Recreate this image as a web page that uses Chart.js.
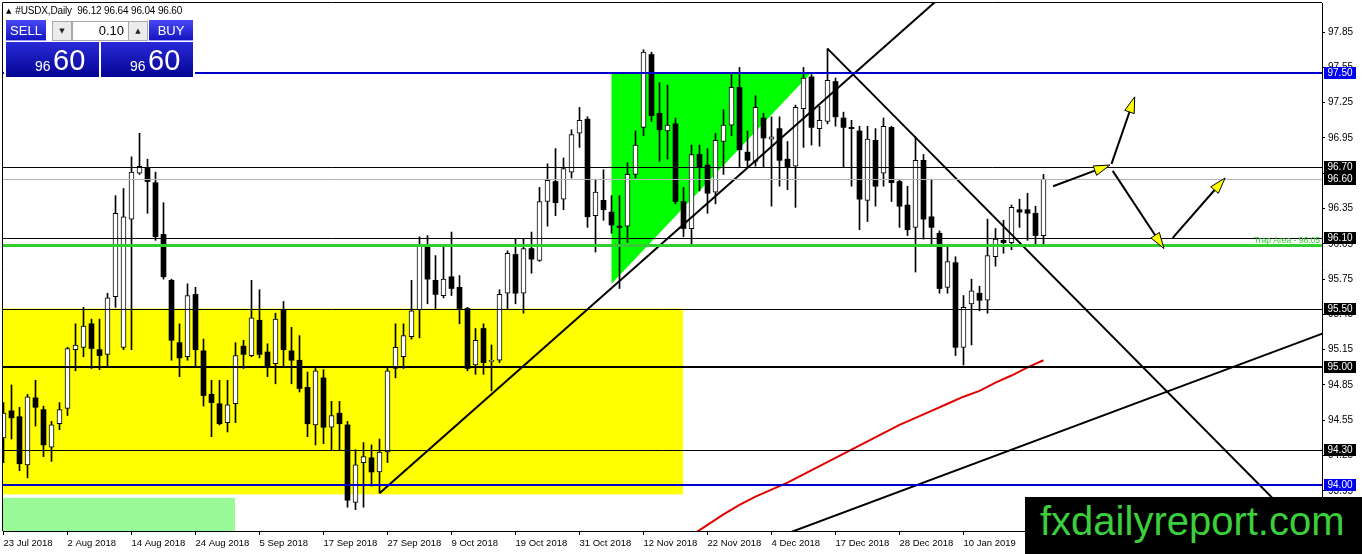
<!DOCTYPE html>
<html>
<head>
<meta charset="utf-8">
<script src="https://cdn.jsdelivr.net/npm/chart.js@4.4.0/dist/chart.umd.min.js"></script>
<style>
  body { margin: 0; background: #fff; }
  #wrap { position: relative; width: 1362px; height: 554px; overflow: hidden; font-family: 'Liberation Sans', Arial, sans-serif; }
  #c { position: absolute; left: 0; top: 0; }
  .hdr { position: absolute; left: 6px; top: 5px; font-size: 10px; letter-spacing: -0.15px; color: #000; white-space: nowrap; }
  .hdr .tri { font-family: 'DejaVu Sans', sans-serif; font-size: 7px; margin-right: 4px; vertical-align: 1px; }
  .panel { position: absolute; left: 4px; top: 19px; width: 191px; height: 59px; background: #fff; }
  .btn { position: absolute; top: 1px; height: 21px; line-height: 21px; font-size: 13px; color: #fff; text-align: center;
         background: linear-gradient(#4848f4, #1414c4); border-bottom: 1px solid #9a9af0; box-sizing: border-box; }
  .spin { position: absolute; top: 2px; width: 20px; height: 20px; box-sizing: border-box; border: 1px solid #a8a8a8;
          background: #ececec; font-family: 'DejaVu Sans', sans-serif; font-size: 7px; line-height: 18px; text-align: center; color: #222; }
  .lot { position: absolute; top: 2px; left: 68px; width: 57px; height: 20px; box-sizing: border-box; border: 1px solid #a8a8a8;
         background: #fff; font-size: 13px; line-height: 18px; text-align: right; padding-right: 4px; color: #000; }
  .px { position: absolute; top: 23px; width: 93px; height: 35px; background: linear-gradient(#2a2ad8, #040494); color: #fff; }
  .px .s { position: absolute; left: 29px; top: 17px; font-size: 14px; line-height: 14px; }
  .px .b { position: absolute; left: 47px; top: 4px; font-size: 29px; line-height: 29px; }
  .banner { position: absolute; left: 1025px; top: 497px; width: 337px; height: 57px; background: #000; }
  .banner span { position: absolute; left: 15px; top: 4px; font-size: 40px; line-height: 40px; color: #3ccf3c; white-space: nowrap; }
</style>
</head>
<body>
<div id="wrap">
  <canvas id="c" width="1362" height="554"></canvas>
  <div class="hdr"><span class="tri">▲</span>#USDX,Daily&nbsp; 96.12 96.64 96.04 96.60</div>
  <div class="panel">
    <div class="btn" style="left:2px;width:40px">SELL</div>
    <div class="spin" style="left:48px">▼</div>
    <div class="lot">0.10</div>
    <div class="spin" style="left:124px">▲</div>
    <div class="btn" style="left:145px;width:44px">BUY</div>
    <div class="px" style="left:2px"><span class="s">96</span><span class="b">60</span></div>
    <div class="px" style="left:97px;width:92px"><span class="s">96</span><span class="b">60</span></div>
  </div>
  <div class="banner"><span>fxdailyreport.com</span></div>
</div>
<script>
// Daily USDX candles, bar 0 = 23 Jul 2018
const opens = [
  94.40, 94.63, 94.58, 94.17, 94.74, 94.64, 94.32, 94.52, 94.65, 95.15,
  95.17, 95.37, 95.15, 95.11, 95.60, 95.17, 96.26, 96.65, 96.70, 96.57,
  96.13, 95.74, 95.21, 95.09, 95.62, 95.14, 94.77, 94.69, 94.53, 94.69,
  95.18, 95.10, 95.40, 95.13, 95.03, 95.49, 95.14, 95.06, 94.83, 94.51,
  94.91, 94.49, 94.61, 94.51, 93.85, 94.19, 94.23, 94.11, 94.28, 94.99,
  95.09, 95.26, 95.49, 96.03, 95.74, 95.61, 95.77, 95.68, 95.50, 95.02,
  95.33, 95.05, 95.06, 95.63, 95.96, 95.63, 96.01, 95.91, 96.41, 96.58,
  96.43, 96.66, 96.99, 97.11, 96.29, 96.42, 96.32, 96.20, 96.20, 96.64,
  97.04, 97.66, 97.16, 97.01, 97.07, 96.41, 96.18, 96.81, 96.72, 96.49,
  96.92, 97.06, 97.38, 96.83, 96.75, 97.12, 96.94, 97.03, 96.77, 96.71,
  97.20, 97.47, 97.03, 97.09, 97.43, 97.12, 97.04, 97.01, 96.42, 96.93,
  96.65, 97.04, 96.58, 96.38, 96.19, 96.76, 96.28, 96.14, 95.68, 95.89,
  95.17, 95.54, 95.63, 95.57, 95.94, 96.08, 96.06, 96.34, 96.34, 96.31,
  96.12
];
const highs = [
  94.70, 94.85, 94.66, 94.77, 94.89, 94.67, 94.54, 94.70, 95.17, 95.37,
  95.51, 95.41, 95.41, 95.63, 96.46, 96.52, 96.79, 96.99, 96.77, 96.66,
  96.40, 95.75, 95.37, 95.71, 95.68, 95.24, 94.89, 94.89, 94.89, 95.21,
  95.23, 95.74, 95.66, 95.20, 95.46, 95.56, 95.34, 95.27, 94.96, 94.99,
  94.98, 94.71, 94.71, 94.54, 94.30, 94.36, 94.34, 94.39, 94.99, 95.37,
  95.37, 95.74, 96.11, 96.12, 95.95, 96.03, 96.15, 95.78, 95.51, 95.33,
  95.37, 95.19, 95.66, 95.99, 96.09, 96.09, 96.15, 96.53, 96.73, 96.86,
  96.78, 97.02, 97.21, 97.13, 96.60, 96.68, 96.46, 96.46, 96.74, 97.01,
  97.70, 97.68, 97.42, 97.40, 97.12, 96.53, 96.89, 96.89, 96.86, 96.99,
  97.19, 97.50, 97.55, 97.01, 97.31, 97.16, 97.13, 97.13, 96.92, 97.23,
  97.55, 97.49, 97.22, 97.71, 97.46, 97.17, 97.10, 97.05, 97.05, 97.03,
  97.12, 97.05, 96.59, 96.54, 96.96, 96.81, 96.60, 96.16, 96.03, 95.94,
  95.61, 95.75, 95.69, 96.26, 96.18, 96.25, 96.38, 96.43, 96.48, 96.37,
  96.64
];
const lows = [
  94.19, 94.39, 94.12, 94.06, 94.50, 94.24, 94.20, 94.47, 94.59, 94.97,
  95.09, 94.99, 94.98, 95.01, 95.51, 95.15, 95.15, 96.64, 96.31, 96.08,
  95.75, 95.06, 94.92, 95.06, 95.01, 94.67, 94.41, 94.51, 94.45, 94.53,
  94.99, 95.09, 95.08, 94.92, 94.86, 95.01, 94.86, 94.79, 94.41, 94.34,
  94.35, 94.30, 94.29, 93.81, 93.79, 93.81, 93.99, 93.93, 94.19, 94.91,
  94.99, 95.24, 95.25, 95.54, 95.50, 95.59, 95.61, 95.37, 94.97, 94.94,
  94.94, 94.80, 95.04, 95.49, 95.54, 95.46, 95.80, 95.90, 96.20, 96.29,
  96.34, 96.61, 96.87, 96.19, 95.98, 96.25, 96.14, 95.67, 96.06, 96.61,
  96.97, 97.09, 96.75, 96.77, 96.39, 96.11, 96.04, 96.50, 96.31, 96.39,
  96.64, 96.97, 96.70, 96.70, 96.71, 96.70, 96.37, 96.54, 96.51, 96.36,
  96.87, 96.89, 96.88, 97.07, 97.05, 96.70, 96.54, 96.17, 96.24, 96.37,
  96.54, 96.41, 96.19, 96.12, 95.81, 96.09, 96.05, 95.63, 95.63, 95.10,
  95.02, 95.19, 95.48, 95.46, 95.86, 95.97, 96.00, 96.19, 96.08, 96.04,
  96.04
];
const closes = [
  94.61, 94.57, 94.18, 94.75, 94.66, 94.34, 94.51, 94.64, 95.16, 95.19,
  95.35, 95.16, 95.10, 95.59, 96.31, 96.28, 96.66, 96.71, 96.58, 96.11,
  95.77, 95.23, 95.08, 95.61, 95.15, 94.76, 94.70, 94.52, 94.68, 95.10,
  95.11, 95.42, 95.11, 95.01, 95.41, 95.15, 95.06, 94.82, 94.52, 94.97,
  94.49, 94.59, 94.52, 93.87, 94.17, 94.24, 94.11, 94.28, 94.97, 95.17,
  95.27, 95.48, 96.03, 95.75, 95.62, 95.75, 95.67, 95.50, 94.99, 95.23,
  95.04, 95.06, 95.62, 95.97, 95.63, 96.01, 95.92, 96.41, 96.59, 96.40,
  96.69, 96.98, 97.10, 96.28, 96.49, 96.34, 96.21, 96.19, 96.64, 96.89,
  97.68, 97.14, 97.02, 97.06, 96.41, 96.18, 96.81, 96.70, 96.48, 96.93,
  97.06, 97.38, 96.85, 96.76, 97.21, 96.95, 96.96, 96.76, 96.70, 97.21,
  97.46, 97.04, 97.10, 97.44, 97.13, 97.04, 97.03, 96.43, 96.94, 96.54,
  97.05, 96.57, 96.37, 96.17, 96.76, 96.26, 96.19, 95.67, 95.90, 95.17,
  95.51, 95.65, 95.57, 95.95, 96.09, 96.06, 96.36, 96.32, 96.31, 96.12,
  96.60
];

const dateBars = [0, 8, 16, 24, 32, 40, 48, 56, 64, 72, 80, 88, 96, 104, 112, 120];
const dateLabels = ['23 Jul 2018', '2 Aug 2018', '14 Aug 2018', '24 Aug 2018', '5 Sep 2018', '17 Sep 2018',
  '27 Sep 2018', '9 Oct 2018', '19 Oct 2018', '31 Oct 2018', '12 Nov 2018', '22 Nov 2018', '4 Dec 2018',
  '17 Dec 2018', '28 Dec 2018', '10 Jan 2019'];
const yTicks = [93.95, 94.25, 94.55, 94.85, 95.15, 95.45, 95.75, 96.05, 96.35, 96.65, 96.95, 97.25, 97.55, 97.85];

// red moving average, read every second bar
const maBars = [86, 88, 90, 92, 94, 96, 98, 100, 102, 104, 106, 108, 110, 112, 114, 116, 118, 120, 122, 124, 126, 128, 130];
const maValues = [93.57, 93.66, 93.75, 93.83, 93.90, 93.96, 94.02, 94.09, 94.16, 94.23, 94.30, 94.37,
  94.44, 94.51, 94.57, 94.63, 94.69, 94.75, 94.80, 94.87, 94.93, 95.00, 95.06];

// trendlines: [bar, price] end points
const upTrend = [[47, 93.93], [117, 98.14]];
const downTrend = [[103, 97.71], [165, 93.45]];
const lowTrend = [[96, 93.537], [165, 95.29]];

// horizontal levels
const levels = [97.50, 96.70, 96.60, 96.10, 96.04, 95.50, 95.00, 94.30, 94.00];
const boxedLevels = [97.50, 96.70, 96.60, 96.10, 95.50, 95.00, 94.30, 94.00];
const trapLabel = 'Trap Area - 96.05';

// zones: bar range and price range
const yellowBars = [-1, 84.94];
const yellowPrices = [95.50, 93.92];
const paleBars = [-1, 28.94];
const palePrices = [93.89, 93.40];
const triangleBars = [76.0, 76.0, 100.9];
const trianglePrices = [97.50, 95.71, 97.50];

// projection arrows [bar, price]
const arrowFrom = [[131.2, 96.54], [138.5, 96.73], [138.65, 96.67], [146.15, 96.10]];
const arrowTo = [[138.3, 96.72], [141.4, 97.30], [145.06, 96.01], [152.7, 96.61]];

const wicks = [], bullBodies = [], bearBodies = [];
opens.forEach((o, i) => {
  wicks.push({x: i, y: [lows[i], highs[i]]});
  if (closes[i] > o) bullBodies.push({x: i, y: [o, closes[i]]});
  else bearBodies.push({x: i, y: [closes[i], o]});
});
const pts = arr => arr.map(p => ({x: p[0], y: p[1]}));

Chart.defaults.font.family = "'Liberation Sans', Arial, sans-serif";
Chart.defaults.color = '#000';

const px = (chart, v) => chart.scales.x.getPixelForValue(v);
const py = (chart, v) => chart.scales.y.getPixelForValue(v);

function drawArrow(ctx, x1, y1, x2, y2) {
  const a = Math.atan2(y2 - y1, x2 - x1);
  const len = 16, hw = 5;
  const bx = x2 - len * Math.cos(a), by = y2 - len * Math.sin(a);
  ctx.strokeStyle = '#000';
  ctx.lineWidth = 2;
  ctx.beginPath(); ctx.moveTo(x1, y1); ctx.lineTo(bx, by); ctx.stroke();
  ctx.beginPath();
  ctx.moveTo(x2, y2);
  ctx.lineTo(bx + hw * Math.sin(a), by - hw * Math.cos(a));
  ctx.lineTo(bx - hw * Math.sin(a), by + hw * Math.cos(a));
  ctx.closePath();
  ctx.fillStyle = '#ffff00';
  ctx.fill();
  ctx.lineWidth = 1;
  ctx.stroke();
}

const drawings = {
  id: 'drawings',
  beforeDatasetsDraw(chart) {
    const {ctx, chartArea: a} = chart;
    ctx.save();
    ctx.beginPath(); ctx.rect(a.left, a.top, a.width, a.height); ctx.clip();
    ctx.fillStyle = '#ffff00';
    ctx.fillRect(px(chart, yellowBars[0]), py(chart, yellowPrices[0]),
      px(chart, yellowBars[1]) - px(chart, yellowBars[0]), py(chart, yellowPrices[1]) - py(chart, yellowPrices[0]));
    ctx.fillStyle = '#98fb98';
    ctx.fillRect(px(chart, paleBars[0]), py(chart, palePrices[0]),
      px(chart, paleBars[1]) - px(chart, paleBars[0]), py(chart, palePrices[1]) - py(chart, palePrices[0]));
    ctx.fillStyle = '#00ff00';
    ctx.beginPath();
    triangleBars.forEach((b, i) => {
      const x = px(chart, b), y = py(chart, trianglePrices[i]);
      if (i === 0) ctx.moveTo(x, y); else ctx.lineTo(x, y);
    });
    ctx.closePath();
    ctx.fill();
    ctx.restore();
  },
  afterDatasetsDraw(chart) {
    const {ctx, chartArea: a} = chart;
    const style = {97.5: ['#0000cc', 2], 96.6: ['#b4b4b4', 1], 96.04: ['#32cd32', 3], 95: ['#000', 2], 94: ['#0000cc', 2]};
    ctx.save();
    ctx.beginPath(); ctx.rect(a.left, a.top, a.width, a.height); ctx.clip();
    levels.forEach(l => {
      const s = style[l] || ['#000', 1];
      const y = Math.round(py(chart, l)) + (s[1] % 2 ? 0.5 : 0);
      ctx.strokeStyle = s[0];
      ctx.lineWidth = s[1];
      ctx.beginPath(); ctx.moveTo(a.left, y); ctx.lineTo(a.right, y); ctx.stroke();
    });
    ctx.fillStyle = '#32cd32';
    ctx.font = "8.5px 'Liberation Sans', Arial, sans-serif";
    ctx.textAlign = 'right';
    ctx.textBaseline = 'alphabetic';
    ctx.fillText(trapLabel, a.right - 2, py(chart, 96.04) - 2);
    arrowFrom.forEach((f, i) => {
      drawArrow(ctx, px(chart, f[0]), py(chart, f[1]), px(chart, arrowTo[i][0]), py(chart, arrowTo[i][1]));
    });
    ctx.restore();
  },
  afterDraw(chart) {
    const {ctx, chartArea: a} = chart;
    ctx.save();
    ctx.strokeStyle = '#000';
    ctx.lineWidth = 1;
    ctx.beginPath();
    ctx.moveTo(a.left - 0.5, a.bottom); ctx.lineTo(a.left - 0.5, a.top - 0.5); ctx.lineTo(a.right, a.top - 0.5);
    ctx.stroke();
    ctx.font = "10px 'Liberation Sans', Arial, sans-serif";
    ctx.textAlign = 'center';
    ctx.textBaseline = 'middle';
    boxedLevels.forEach(l => {
      const y = Math.round(py(chart, l));
      ctx.fillStyle = (l === 97.5 || l === 94) ? '#0000f0' : '#000';
      ctx.fillRect(a.right + 2, y - 6, 32, 12);
      ctx.fillStyle = '#fff';
      ctx.fillText(l.toFixed(2), a.right + 18, y + 0.5);
    });
    ctx.restore();
  }
};

new Chart(document.getElementById('c'), {
  type: 'bar',
  data: {
    datasets: [
      {type: 'line', data: pts(upTrend), borderColor: '#000', borderWidth: 2, pointRadius: 0, clip: 0, order: 0},
      {type: 'line', data: pts(downTrend), borderColor: '#000', borderWidth: 2, pointRadius: 0, clip: 0, order: 0},
      {type: 'line', data: pts(lowTrend), borderColor: '#000', borderWidth: 2, pointRadius: 0, clip: 0, order: 0},
      {type: 'line', data: maBars.map((b, i) => ({x: b, y: maValues[i]})), borderColor: '#e00000', borderWidth: 2,
       pointRadius: 0, clip: 0, order: 1},
      {data: bullBodies, backgroundColor: '#fff', borderColor: '#000', borderWidth: 1, borderSkipped: false,
       barThickness: 5, minBarLength: 1, grouped: false, order: 2},
      {data: bearBodies, backgroundColor: '#000', borderColor: '#000', borderWidth: 0, borderSkipped: false,
       barThickness: 5, minBarLength: 1, grouped: false, order: 2},
      {data: wicks, backgroundColor: '#000', borderWidth: 0, barThickness: 1, grouped: false, order: 3}
    ]
  },
  options: {
    responsive: false,
    animation: false,
    events: [],
    layout: {padding: {left: 3, top: 3, right: 0, bottom: 0}},
    plugins: {legend: {display: false}, tooltip: {enabled: false}},
    scales: {
      x: {
        type: 'linear', min: -0.0625, max: 164.8125, offset: false,
        afterBuildTicks: s => { s.ticks = dateBars.map(v => ({value: v})); },
        afterFit: s => { s.height = 23; s.paddingLeft = 0; s.paddingRight = 0; },
        ticks: {callback: (v, i) => dateLabels[i], align: 'start', maxRotation: 0, autoSkip: false, padding: 3,
                font: {size: 9.5}, color: '#000'},
        grid: {drawOnChartArea: false, drawTicks: true, tickLength: 4, color: '#000', offset: false},
        border: {display: true, color: '#000'}
      },
      y: {
        position: 'right', min: 93.608, max: 98.098,
        afterBuildTicks: s => { s.ticks = yTicks.map(v => ({value: v})); },
        afterFit: s => { s.width = 40; s.paddingTop = 0; s.paddingBottom = 0; },
        ticks: {callback: v => v.toFixed(2), padding: 3, autoSkip: false, font: {size: 10}, color: '#000'},
        grid: {drawOnChartArea: false, drawTicks: true, tickLength: 3, color: '#000'},
        border: {display: true, color: '#000'}
      }
    }
  },
  plugins: [drawings]
});
</script>
</body>
</html>
